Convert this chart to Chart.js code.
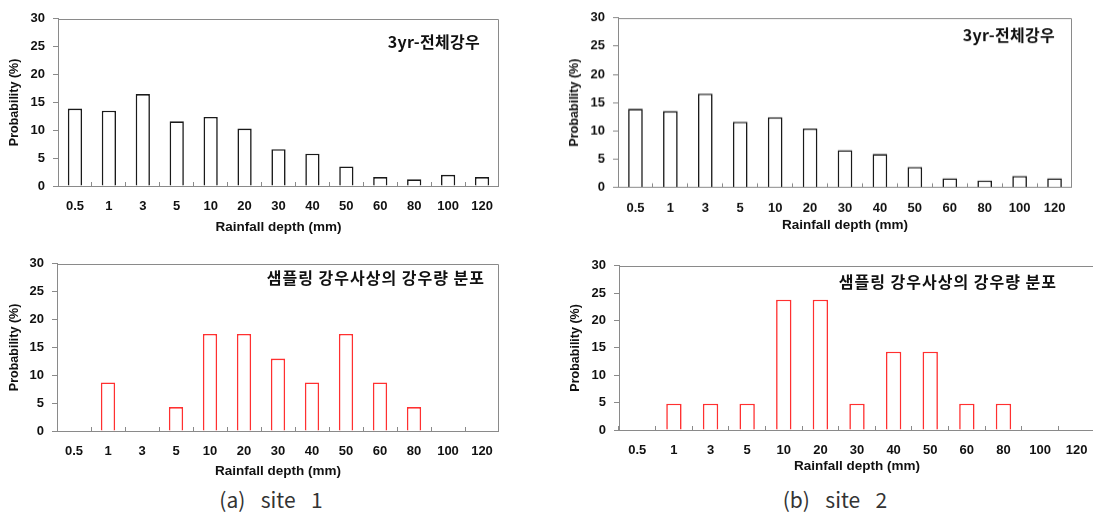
<!DOCTYPE html>
<html>
<head>
<meta charset="utf-8">
<script src="https://cdn.jsdelivr.net/npm/chart.js@4.4.1/dist/chart.umd.min.js"></script>
<style>
    html, body { margin: 0; padding: 0; background: #fff; overflow: hidden; }
    body { width: 1093px; height: 514px; position: relative; }
    .panel { position: absolute; }
    .caption {
        position: absolute; width: 200px; text-align: center; word-spacing: 3px;
        font: 400 21px 'Noto Sans CJK KR', 'Noto Sans', sans-serif; color: #333;
    }
</style>
</head>
<body>
<div class="panel" id="p-tl"><canvas id="c-tl"></canvas></div>
<div class="panel" id="p-tr"><canvas id="c-tr"></canvas></div>
<div class="panel" id="p-bl"><canvas id="c-bl"></canvas></div>
<div class="panel" id="p-br"><canvas id="c-br"></canvas></div>
<div class="caption" style="left:171px; top:484px;">(a)&nbsp; site&nbsp; 1</div>
<div class="caption" style="left:735px; top:484px;">(b)&nbsp; site&nbsp; 2</div>

<script>
// rainfall depth classes (mm)
const categories = ['0.5', '1', '3', '5', '10', '20', '30', '40', '50', '60', '80', '100', '120'];
const yTicks = [0, 5, 10, 15, 20, 25, 30];

// probability (%) - all rainfall, 3 years
const site1All = [13.9, 13.5, 16.5, 11.6, 12.4, 10.3, 6.6, 5.8, 3.5, 1.6, 1.2, 2.0, 1.6];
const site2All = [13.9, 13.5, 16.6, 11.6, 12.4, 10.4, 6.6, 5.9, 3.6, 1.6, 1.2, 2.0, 1.6];

// probability (%) - sampled rainfall events
const site1Sampled = [0, 8.7, 0, 4.3, 17.4, 17.4, 13.0, 8.7, 17.4, 8.7, 4.3, 0, 0];
const site2Sampled = [0, 4.8, 4.8, 4.8, 23.8, 23.8, 4.8, 14.3, 14.3, 4.8, 4.8, 0, 0];

const allLabel = '3yr-전체강우';
const sampledLabel = '샘플링 강우사상의 강우량 분포';

const axisGray = '#8a8a8a';
const tickFont = { family: "'Liberation Sans', Arial, sans-serif", size: 13, weight: 'bold' };
const titleFont = { family: "'Liberation Sans', Arial, sans-serif", size: 13.5, weight: 'bold' };

// frame on top/right + text label inside the plot
const framePlugin = {
    id: 'frame',
    afterDraw(chart, args, opts) {
        const { ctx, chartArea: a } = chart;
        ctx.save();
        ctx.strokeStyle = axisGray;
        ctx.lineWidth = 1;
        ctx.beginPath();
        ctx.moveTo(Math.round(a.left) + 0.5, Math.round(a.top) + 0.5);
        ctx.lineTo(Math.round(a.right) - 0.5, Math.round(a.top) + 0.5);
        ctx.lineTo(Math.round(a.right) - 0.5, Math.round(a.bottom));
        ctx.stroke();
        ctx.fillStyle = '#111';
        ctx.font = "bold 16px 'Noto Sans CJK KR', sans-serif";
        ctx.letterSpacing = opts.spacing;
        ctx.textAlign = 'right';
        ctx.textBaseline = 'middle';
        ctx.fillText(opts.text, opts.x, opts.y);
        ctx.restore();
    }
};

const panels = [
    { id: 'tl', left: 0, top: 3, yw: 58, plotW: 441, plotH: 171, padTop: 12, xh: 51, values: site1All, color: '#1a1a1a', text: allLabel, spacing: '0.3px', tx: 480, ty: 41.5 },
    { id: 'tr', left: 560, top: 2, yw: 58, plotW: 454, plotH: 173, padTop: 11.5, xh: 48, values: site2All, color: '#1a1a1a', text: allLabel, spacing: '0.3px', tx: 1055, ty: 35 },
    { id: 'bl', left: 0, top: 248, yw: 57, plotW: 442, plotH: 171, padTop: 12, xh: 50, values: site1Sampled, color: '#ff3030', text: sampledLabel, spacing: '1px', tx: 485, ty: 278 },
    { id: 'br', left: 561, top: 250, yw: 58, plotW: 476, plotH: 168, padTop: 12, xh: 46, values: site2Sampled, color: '#ff3030', text: sampledLabel, spacing: '1px', tx: 1057, ty: 281.5 },
];

panels.forEach(p => {
    const box = document.getElementById('p-' + p.id);
    const w = p.yw + p.plotW;
    const h = p.padTop + p.plotH + p.xh;
    box.style.left = p.left + 'px';
    box.style.top = p.top + 'px';
    box.style.width = w + 'px';
    box.style.height = h + 'px';

    new Chart(document.getElementById('c-' + p.id), {
        type: 'bar',
        data: {
            labels: categories,
            datasets: [{
                data: p.values,
                backgroundColor: '#ffffff',
                borderColor: p.color,
                borderWidth: ctx => (ctx.raw ? 1.6 : 0),
                borderSkipped: 'bottom',
                barPercentage: 0.42,
                categoryPercentage: 1,
            }],
        },
        options: {
            responsive: true,
            maintainAspectRatio: false,
            animation: false,
            devicePixelRatio: 1,
            layout: { padding: { top: p.padTop, right: 0, bottom: 0, left: 0 } },
            plugins: {
                legend: { display: false },
                tooltip: { enabled: false },
                frame: { text: p.text, spacing: p.spacing, x: p.tx - p.left, y: p.ty - p.top },
            },
            scales: {
                x: {
                    afterFit: s => {
                        s.height = p.xh;
                        s.paddingLeft = 0;
                        s.paddingRight = 0;
                    },
                    grid: { offset: true, drawOnChartArea: false, drawTicks: true, tickLength: -4, color: axisGray },
                    border: { color: axisGray, width: 1 },
                    ticks: { color: '#111', font: tickFont, padding: 17, maxRotation: 0, autoSkip: false },
                    title: {
                        display: true, text: 'Rainfall depth (mm)', color: '#111',
                        font: titleFont, padding: { top: 0, bottom: 2 },
                    },
                },
                y: {
                    min: 0,
                    max: 30,
                    afterFit: s => { s.width = p.yw; },
                    afterBuildTicks: s => { s.ticks = yTicks.map(v => ({ value: v })); },
                    grid: { drawOnChartArea: false, drawTicks: true, tickLength: 5, color: axisGray },
                    border: { color: axisGray, width: 1 },
                    ticks: { color: '#111', font: tickFont, padding: 8 },
                    title: {
                        display: true, text: 'Probability (%)', color: '#111',
                        font: { family: "'Liberation Sans', Arial, sans-serif", size: 12.5, weight: 'bold' },
                        padding: { top: 7, bottom: 0 },
                    },
                },
            },
        },
        plugins: [framePlugin],
    });
});
</script>
</body>
</html>
